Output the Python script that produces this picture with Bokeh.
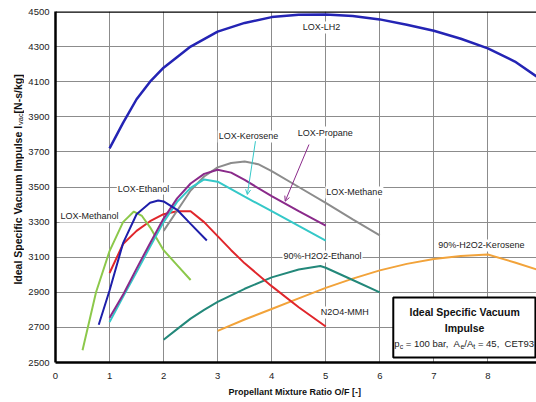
import math
from bokeh.plotting import figure
from bokeh.layouts import row
from bokeh.models import Label, Arrow, OpenHead, BoxAnnotation, Span, Range1d, FixedTicker
from bokeh.embed import file_html
from bokeh.resources import INLINE

# ---------------- data ----------------
lh2_x = [1.0, 1.25, 1.5, 1.75, 2.0, 2.5, 3.0, 3.5, 4.0, 4.5, 5.0, 5.5, 6.0, 6.5, 7.0, 7.5, 8.0, 8.5, 8.9]
lh2_y = [3720, 3865, 4000, 4100, 4180, 4300, 4385, 4435, 4468, 4482, 4483, 4475, 4455, 4425, 4390, 4345, 4290, 4215, 4130]

ethanol_x = [0.8, 1.0, 1.25, 1.5, 1.75, 1.9, 2.0, 2.25, 2.5, 2.8]
ethanol_y = [2715, 2910, 3180, 3345, 3410, 3423, 3418, 3370, 3290, 3195]

methanol_x = [0.5, 0.75, 1.0, 1.25, 1.45, 1.6, 1.75, 2.0, 2.25, 2.5]
methanol_y = [2570, 2900, 3135, 3300, 3360, 3335, 3270, 3140, 3055, 2970]

n2o4_x = [1.0, 1.25, 1.5, 1.75, 2.0, 2.25, 2.5, 2.75, 3.0, 3.25, 3.5, 4.0, 4.5, 5.0]
n2o4_y = [3010, 3175, 3250, 3305, 3345, 3362, 3362, 3300, 3220, 3140, 3065, 2935, 2815, 2705]

kerosene_x = [1.0, 1.26, 1.5, 1.75, 2.0, 2.25, 2.5, 2.75, 3.0, 3.5, 4.0, 4.5, 5.0]
kerosene_y = [2730, 2880, 3015, 3160, 3300, 3415, 3495, 3543, 3530, 3445, 3362, 3278, 3195]

propane_x = [1.0, 1.26, 1.5, 1.75, 2.0, 2.25, 2.5, 2.75, 3.0, 3.25, 3.5, 4.0, 4.5, 5.0]
propane_y = [2755, 2892, 3035, 3180, 3320, 3435, 3520, 3575, 3598, 3582, 3540, 3448, 3362, 3280]

methane_x = [2.0, 2.25, 2.5, 2.75, 3.0, 3.25, 3.5, 3.75, 4.0, 4.5, 5.0, 5.5, 6.0]
methane_y = [3250, 3365, 3480, 3560, 3612, 3637, 3645, 3630, 3590, 3500, 3410, 3315, 3225]

h2o2_eth_x = [2.0, 2.25, 2.5, 2.75, 3.0, 3.5, 4.0, 4.5, 4.9, 5.0, 5.5, 6.0]
h2o2_eth_y = [2630, 2690, 2750, 2800, 2845, 2920, 2985, 3030, 3050, 3040, 2970, 2900]

h2o2_ker_x = [3.0, 3.5, 4.0, 4.5, 5.0, 5.5, 6.0, 6.5, 7.0, 7.5, 8.0, 8.5, 8.9]
h2o2_ker_y = [2680, 2745, 2805, 2865, 2925, 2978, 3025, 3062, 3090, 3107, 3115, 3070, 3030]

x_ticks = [0, 1, 2, 3, 4, 5, 6, 7, 8]
y_ticks = [2500, 2700, 2900, 3100, 3300, 3500, 3700, 3900, 4100, 4300, 4500]

series = [
    ("90%-H2O2-Kerosene", h2o2_ker_x, h2o2_ker_y, "#f2a33a", 2),
    ("90%-H2O2-Ethanol", h2o2_eth_x, h2o2_eth_y, "#23887a", 2),
    ("N2O4-MMH", n2o4_x, n2o4_y, "#e0262b", 2),
    ("LOX-Methanol", methanol_x, methanol_y, "#8cc84b", 2),
    ("LOX-Methane", methane_x, methane_y, "#8c8c8c", 2),
    ("LOX-Kerosene", kerosene_x, kerosene_y, "#35c8c8", 2),
    ("LOX-Propane", propane_x, propane_y, "#8a2a8a", 2),
    ("LOX-Ethanol", ethanol_x, ethanol_y, "#1e1eaa", 2),
    ("LOX-LH2", lh2_x, lh2_y, "#2424b4", 2.5),
]

# label positions (annotation placement)
curve_labels = [
    ("LOX-LH2", 4.92, 4409),
    ("LOX-Kerosene", 3.57, 3788),
    ("LOX-Propane", 4.99, 3810),
    ("LOX-Methane", 5.53, 3469),
    ("LOX-Ethanol", 1.63, 3491),
    ("LOX-Methanol", 0.63, 3332),
    ("90%-H2O2-Ethanol", 4.94, 3104),
    ("N2O4-MMH", 5.35, 2785),
    ("90%-H2O2-Kerosene", 7.88, 3167),
]

FONT = "Liberation Sans"
LEFT_W = 24

p = figure(width=536 - LEFT_W, height=402, output_backend="svg", toolbar_location=None,
           x_range=Range1d(0, 8.9), y_range=Range1d(2500, 4500),
           min_border_left=55 - LEFT_W, min_border_right=0, min_border_top=11, min_border_bottom=40)
p.outline_line_color = None
p.background_fill_color = "white"
p.border_fill_color = "white"

for ax in (p.xaxis[0], p.yaxis[0]):
    ax.axis_line_color = "black"
    ax.axis_line_width = 2.5
    ax.major_tick_line_color = None
    ax.minor_tick_line_color = None
    ax.major_tick_out = 0
    ax.major_tick_in = 0
    ax.major_label_text_font = FONT
    ax.major_label_text_font_size = "9.5px"
    ax.major_label_text_color = "#222222"
p.yaxis.major_label_standoff = 6
p.xaxis.major_label_standoff = 10

p.xaxis.ticker = FixedTicker(ticks=x_ticks)
p.yaxis.ticker = FixedTicker(ticks=y_ticks)
p.xaxis.axis_label = "Propellant Mixture Ratio O/F  [-]"
p.xaxis.axis_label_text_font = FONT
p.xaxis.axis_label_text_font_style = "bold"
p.xaxis.axis_label_text_font_size = "9px"
p.xaxis.axis_label_text_color = "#111111"
p.xaxis.axis_label_standoff = 5
p.yaxis.axis_label = None

p.xgrid.ticker = FixedTicker(ticks=x_ticks)
p.ygrid.ticker = FixedTicker(ticks=y_ticks)
for g in (p.xgrid[0], p.ygrid[0]):
    g.grid_line_color = "#8c8c8c"
    g.grid_line_width = 1

p.add_layout(Span(location=4500, dimension="width", line_color="black", line_width=2.5))

for name, xs, ys, col, lw in series:
    p.line(xs, ys, line_color=col, line_width=lw)

for text, lx, ly in curve_labels:
    p.add_layout(Label(x=lx, y=ly, text=text, text_align="center", text_baseline="middle",
                       text_font=FONT, text_font_size="9px", text_color="#222222",
                       background_fill_color="white", padding=1))

# leader arrows
p.add_layout(Arrow(end=OpenHead(size=5, line_color="#35c8c8", line_width=1),
                   x_start=3.70, y_start=3761, x_end=3.55, y_end=3457,
                   line_color="#35c8c8", line_width=1))
p.add_layout(Arrow(end=OpenHead(size=5, line_color="#8a2a8a", line_width=1),
                   x_start=4.69, y_start=3742, x_end=4.25, y_end=3419,
                   line_color="#8a2a8a", line_width=1))

# info box
p.add_layout(BoxAnnotation(left=6.25, right=8.88, bottom=2528, top=2870,
                           fill_color="white", fill_alpha=1.0,
                           line_color="black", line_width=2, line_alpha=1.0))
p.add_layout(Label(x=7.57, y=2786, text="Ideal Specific Vacuum", text_align="center",
                   text_baseline="middle", text_font=FONT, text_font_style="bold",
                   text_font_size="10.5px", text_color="#111111"))
p.add_layout(Label(x=7.57, y=2699, text="Impulse", text_align="center",
                   text_baseline="middle", text_font=FONT, text_font_style="bold",
                   text_font_size="10.5px", text_color="#111111"))
pieces = [
    ("p", 0.0, 0, "9.5px"),
    ("c", 5.3, -3, "7px"),
    ("\u00a0=\u00a0100\u00a0bar,\u00a0\u00a0A", 8.8, 0, "9.5px"),
    ("e", 66.1, -3, "7px"),
    ("/A", 70.0, 0, "9.5px"),
    ("t", 79.0, -3, "7px"),
    ("\u00a0=\u00a045,\u00a0\u00a0CET93", 80.9, 0, "9.5px"),
]
for txt, xo, yo, fs in pieces:
    p.add_layout(Label(x=6.27, y=2608, x_offset=xo, y_offset=yo, text=txt,
                       text_align="left", text_baseline="middle", text_font=FONT,
                       text_font_size=fs, text_color="#222222"))

# ---------------- narrow strip holding the rotated y-axis title ----------------
t = figure(width=LEFT_W, height=402, output_backend="svg", toolbar_location=None,
           x_range=Range1d(0, LEFT_W), y_range=Range1d(402, 0),
           x_axis_location=None, y_axis_location=None,
           min_border_left=0, min_border_right=0, min_border_top=0, min_border_bottom=0)
t.outline_line_color = None
t.grid.visible = False
t.background_fill_color = "white"
t.border_fill_color = "white"
# (text, x, y, size, style, align) -- rotated text reads bottom to top
ylab = [
    ("Ideal Specific Vacuum Impulse I", 17, 131, "10.5px", "bold", "right"),
    ("vac", 20, 130, "7.5px", "normal", "left"),
    ("[N-s/kg]", 17, 72, "10.5px", "bold", "right"),
]
for txt, lx, ly, fs, st, al in ylab:
    t.add_layout(Label(x=lx, y=ly, angle=math.pi / 2,
                       text=txt, text_align=al, text_baseline="middle",
                       text_font=FONT, text_font_size=fs, text_font_style=st,
                       text_color="#111111"))

layout = row(t, p, spacing=0)
open("out.html", "w").write(file_html(layout, INLINE))
